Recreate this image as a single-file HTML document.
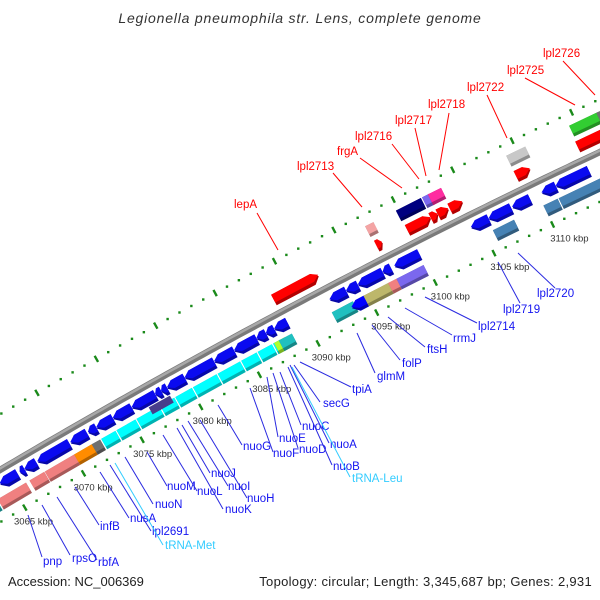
<!DOCTYPE html>
<html><head><meta charset="utf-8"><style>
html,body{margin:0;padding:0;background:#fff;}
svg{display:block;font-family:"Liberation Sans",sans-serif;}
</style></head><body>
<svg id="chart" width="600" height="600" viewBox="0 0 600 600" xmlns="http://www.w3.org/2000/svg">
<rect width="600" height="600" fill="#fff"/>
<text x="300" y="23" text-anchor="middle" font-size="14" letter-spacing="0.8" font-style="italic" fill="#333">Legionella pneumophila str. Lens, complete genome</text>
<g id="ticks"></g><g id="backbone"></g><g id="features"></g><g id="labels"></g>
<text x="8" y="586" font-size="13" fill="#222">Accession: NC_006369</text>
<text x="592" y="586" text-anchor="end" font-size="13" letter-spacing="0.3" fill="#222">Topology: circular; Length: 3,345,687 bp; Genes: 2,931</text>
</svg>
<script>
// gene data: start kbp, end kbp, lane, colour, direction
const blueStarts=[3064.3,3066.0,3066.4,3067.5,3070.3,3071.8,3072.5,3073.9,3075.5,3077.5,3078.0,3078.5,3080.0,3082.5,3084.2,3086.1,3086.9,3087.6,3092.3,3093.7,3094.7,3096.8,3097.8,3104.3,3105.8,3107.8,3110.3,3111.5];
const blueEnds=[3065.8,3066.4,3067.4,3070.2,3071.7,3072.5,3073.9,3075.5,3077.5,3078.0,3078.5,3080.0,3082.5,3084.2,3086.1,3086.9,3087.6,3088.7,3093.7,3094.7,3096.8,3097.5,3099.9,3105.8,3107.7,3109.3,3111.5,3114.3];
const lowerStarts=[3062.5,3063.6,3066.3,3067.6,3070.1,3071.6,3072.4,3073.7,3075.4,3077.4,3078.7,3080.2,3082.3,3084.3,3085.7,3087.0,3087.1,3087.5,3092.0,3093.5,3094.7,3096.8,3097.5,3105.7,3110.0,3111.3];
const lowerEnds=[3063.5,3066.0,3067.55,3070.1,3071.6,3072.3,3073.6,3075.3,3077.3,3078.6,3080.1,3082.2,3084.2,3085.6,3086.9,3087.6,3088.0,3088.6,3093.8,3094.7,3096.8,3097.5,3099.8,3107.5,3111.2,3115.5];
const lowerColors=["#20b8b8","#f08080","#f08080","#f08080","#ff8c00","#707070","#00ffff","#00ffff","#00ffff","#00ffff","#00ffff","#00ffff","#00ffff","#00ffff","#00ffff","#00ffff","#adff2f","#20c0c0","#20c0c0","#0000ff","#bdb76b","#f08080","#7b68ee","#4682b4","#4682b4","#4682b4"];
const upperStarts=[3088.6,3097.3,3099.9,3101.9,3102.5,3103.5,3109.1,3114.3];
const upperEnds=[3092.4,3097.8,3101.9,3102.5,3103.4,3104.6,3110.3,3117.0];
const upper2Starts=[3097.2,3099.8,3102.0,3102.5,3109.1,3114.4,3116.7];
const upper2Ends=[3097.9,3101.9,3102.6,3103.6,3110.7,3116.7,3118.5];
const upper2Colors=["#f4a4a4","#000080","#7b68ee","#ff2ca0","#c8c8c8","#32cd32","#707070"];
const tickLabels=[3065,3070,3075,3080,3085,3090,3095,3100,3105,3110];
const blueLabels=["pnp","rpsO","rbfA","infB","nusA","lpl2691","tRNA-Met","nuoN","nuoM","nuoL","nuoK","nuoJ","nuoI","nuoH","nuoG","nuoF","nuoE","nuoD","nuoC","nuoA","nuoB","tRNA-Leu","secG","tpiA","glmM","folP","ftsH","rrmJ","lpl2714","lpl2719","lpl2720"];
const redLabels=["lepA","lpl2713","frgA","lpl2716","lpl2717","lpl2718","lpl2722","lpl2725","lpl2726"];
</script>
<script>
const NS="http://www.w3.org/2000/svg";
function X(t){return 120+11.8*(t-3075);}
function pos(t,d){const xb=X(t);const yb=470-0.59*xb+1e-4*xb*xb;const m=-0.59+2e-4*xb;const L=Math.sqrt(1+m*m);return [xb+d*(-m/L),yb+d*(1/L),-m/L,1/L];}
function mk(tag,attrs,parent,name,inter){const e=document.createElementNS(NS,tag);for(const k in attrs)e.setAttribute(k,attrs[k]);parent.appendChild(e);


return e;}
function shape(t1,t2,d,h,dir){const a=Math.min(0.5,(t2-t1)*0.5);let pts;
 if(dir>0)pts=[[t1,d-h],[t2-a,d-h],[t2,d],[t2-a,d+h],[t1,d+h]];
 else if(dir<0)pts=[[t1+a,d-h],[t2,d-h],[t2,d+h],[t1+a,d+h],[t1,d]];
 else pts=[[t1,d-h],[t2,d-h],[t2,d+h],[t1,d+h]];
 return pts.map(p=>{const q=pos(p[0],p[1]);return q[0].toFixed(1)+","+q[1].toFixed(1);}).join(" ");}
function shade(c){const n=parseInt(c.slice(1),16);const r=(n>>16)*0.7|0,g=((n>>8)&255)*0.7|0,b=(n&255)*0.7|0;return "rgb("+r+","+g+","+b+")";}
const F=document.getElementById('features');
function gene(t1,t2,d,col,dir,name){const g=mk('g',{},F,name,true);
 mk('polygon',{points:shape(t1,t2,d,6,dir),fill:shade(col)},g,name+'-shadow',false);
 mk('polygon',{points:shape(t1,t2,d-1.6,4.4,dir),fill:col},g,name+'-face',false);}
const B=document.getElementById('backbone');
let bp=[],bp2=[];for(let t=3060;t<=3122;t+=0.5){const p=pos(t,0),q=pos(t,-1.3);bp.push(p[0].toFixed(1)+","+p[1].toFixed(1));bp2.push(q[0].toFixed(1)+","+q[1].toFixed(1));}
mk('polyline',{points:bp.join(" "),fill:"none",stroke:"#7a7a7a","stroke-width":6.5},B,'genome-backbone',false);
mk('polyline',{points:bp2.join(" "),fill:"none",stroke:"#a8a8a8","stroke-width":2.5},B,'backbone-highlight',false);
const T=document.getElementById('ticks');
[45,-48].forEach(d=>{for(let t=3058;t<=3122;t++){const p=pos(t,d);
 if(t%5===0){const a=pos(t,d-3.5),b=pos(t,d+3.5);mk('line',{x1:a[0],y1:a[1],x2:b[0],y2:b[1],stroke:"#1a8a1a","stroke-width":2.4},T,'major-tick',false);}
 else mk('rect',{x:p[0]-1.2,y:p[1]-1.2,width:2.4,height:2.4,fill:"#1a8a1a"},T,'minor-tick',false);}});
tickLabels.forEach(t=>{const p=pos(t,45);const tx=mk('text',{x:p[0]+10.5+(t-3075)*0.18,y:p[1]+17,"text-anchor":"middle","font-size":"9.5",fill:"#333"},T,'tick-label',false);tx.textContent=t+" kbp";});
upper2Starts.forEach((s,i)=>gene(s,upper2Ends[i],-31,upper2Colors[i],0,'upper-gene-'+i));
upperStarts.forEach((s,i)=>gene(s,upperEnds[i],-14,"#ff0000",1,'red-gene-'+i));
lowerStarts.forEach((s,i)=>gene(s,lowerEnds[i],30,lowerColors[i],lowerColors[i]==="#0000ff"?-1:0,'lower-gene-'+i));
mk('polygon',{points:shape(3076.6,3078.4,24,4,0),fill:"#483d8b"},F,'nuo-subunit-gene',true);
blueStarts.forEach((s,i)=>gene(s,blueEnds[i],13,"#0a0af0",-1,'blue-gene-'+i));
const blueLay=[[43,565,28,515,42,557],[72,562,42,505,70,555],[98,566,57,497,97,560],[100,530,75,487,99,525],[130,522,100,472,129,518],[152,535,110,465,151,531],[165,549,115,463,163,545],[155,508,125,457,153,504],[167,490,147,452,167,486],[197,495,163,435,197,491],[225,513,177,428,223,509],[211,477,182,425,210,473],[228,490,188,421,228,486],[247,502,200,420,247,498],[243,450,218,405,242,445],[273,457,250,388,273,452],[279,442,267,377,278,437],[299,453,273,373,298,448],[302,430,280,372,301,425],[330,448,290,365,329,443],[333,470,288,367,332,465],[352,482,292,367,350,477],[323,407,294,365,320,402],[352,393,300,362,351,387],[377,380,357,333,375,373],[402,367,372,325,400,360],[427,353,388,317,425,347],[453,342,405,308,452,335],[478,330,425,297,477,323],[503,313,498,262,520,303],[537,297,518,253,555,288]];
const redLay=[[234,208,257,213,278,250],[297,170,333,173,362,207],[337,155,360,158,402,188],[355,140,392,144,419,179],[395,124,415,128,426,176],[428,108,449,113,439,170],[467,91,487,95,507,138],[507,74,525,78,575,105],[543,57,563,61,595,95]];
const Lg=document.getElementById('labels');
blueLabels.forEach((s,i)=>{const l=blueLay[i];const c=s.startsWith('tRNA')?"#33ccff":"#1414f0";const lc=s.startsWith('tRNA')?"#33ccff":"#2a2ae0";
 mk('line',{x1:l[2],y1:l[3],x2:l[4],y2:l[5],stroke:lc,"stroke-width":1},Lg,'label-leader',false);
 const t=mk('text',{x:l[0],y:l[1],"font-size":"11.5",fill:c},Lg,'gene-label-'+s,false);t.textContent=s;});
redLabels.forEach((s,i)=>{const l=redLay[i];
 mk('line',{x1:l[2],y1:l[3],x2:l[4],y2:l[5],stroke:"#ff0000","stroke-width":1},Lg,'label-leader',false);
 const t=mk('text',{x:l[0],y:l[1],"font-size":"11.5",fill:"#ff0000"},Lg,'gene-label-'+s,false);t.textContent=s;});
</script>
</body></html>
